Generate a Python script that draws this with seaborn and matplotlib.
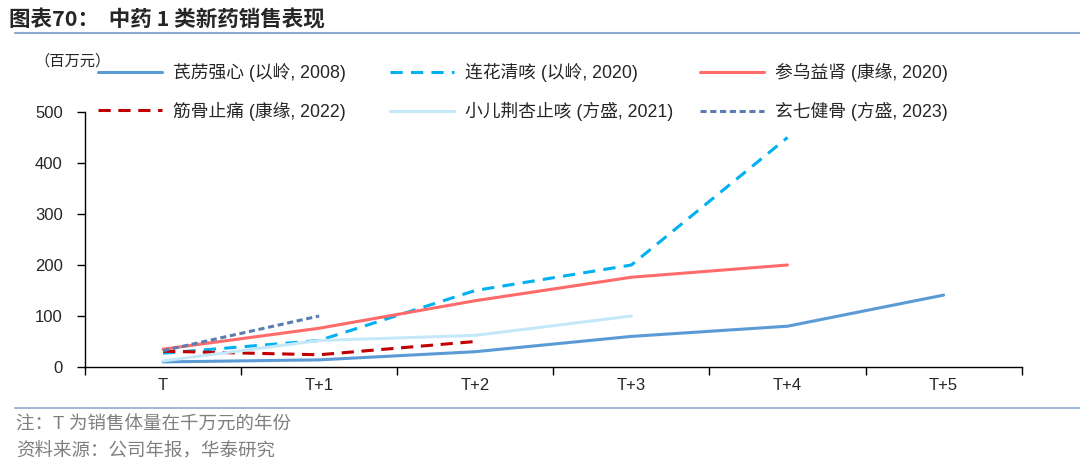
import pandas as pd
import matplotlib.pyplot as plt
import seaborn as sns

sns.set_style("white")
plt.rcParams['font.family'] = ['Liberation Sans', 'Noto Sans CJK SC']
plt.rcParams['axes.unicode_minus'] = False

periods = ["T", "T+1", "T+2", "T+3", "T+4", "T+5"]

qili = [10, 14, 30, 60, 80, 141]
lianhua = [27, 52, 150, 200, 450]
shenwu = [35, 76, 130, 176, 200]
jingu = [31, 24, 50]
xiaoer = [12, 52, 62, 100]
xuanqi = [32, 100]

names = ["芪苈强心 (以岭, 2008)", "连花清咳 (以岭, 2020)", "参乌益肾 (康缘, 2020)",
         "筋骨止痛 (康缘, 2022)", "小儿荆杏止咳 (方盛, 2021)", "玄七健骨 (方盛, 2023)"]
series = [qili, lianhua, shenwu, jingu, xiaoer, xuanqi]
colors = ["#5B9BD5", "#00B0F0", "#FF6B6B", "#C00000", "#C5E8F8", "#5B7DB1"]
dashes = [None, (4, 2.7), None, (4, 2.5), None, (2, 1.2)]

fig = plt.figure(figsize=(10.8, 4.68), dpi=100)
ax = fig.add_axes([0.0787, 0.2158, 0.8673, 0.5449])

lines = []
for name, vals, c, d in zip(names, series, colors, dashes):
    df = pd.DataFrame({"x": range(len(vals)), "y": vals})
    sns.lineplot(data=df, x="x", y="y", ax=ax, color=c, linewidth=2.2, label=name)
    ln = ax.get_lines()[-1]
    if d is not None:
        ln.set_dashes(d)
    lines.append(ln)

ax.set_xlim(-0.5, 5.5)
ax.set_ylim(0, 500)
ax.set_xlabel("")
ax.set_ylabel("")
ax.set_xticks(range(6))
ax.set_xticklabels(periods)
ax.set_xticks([i - 0.5 for i in range(7)], minor=True)
ax.tick_params(axis="x", which="major", bottom=True, length=0, pad=8, labelsize=12)
ax.tick_params(axis="x", which="minor", bottom=True, length=6, width=1, direction="out", color="black")
ax.set_yticks([0, 100, 200, 300, 400, 500])
ax.tick_params(axis="y", left=True, length=6, width=1, direction="out", color="black", labelsize=12, pad=10)
for s in ["top", "right"]:
    ax.spines[s].set_visible(False)
for s in ["left", "bottom"]:
    ax.spines[s].set_color("black")
    ax.spines[s].set_linewidth(1)

# three legend columns placed by hand, like the report layout
ax.get_legend().remove()
col_x = [98, 390, 700]
col_items = [[0, 3], [1, 4], [2, 5]]
for k, (x0, items) in enumerate(zip(col_x, col_items)):
    leg = ax.legend([lines[i] for i in items], [names[i] for i in items], frameon=False,
                    loc="upper left", bbox_to_anchor=(x0 / 1080, 1 - 63 / 468),
                    bbox_transform=fig.transFigure, fontsize=12.8, handlelength=3.6,
                    handletextpad=0.6, labelspacing=1.1, borderpad=0, borderaxespad=0)
    if k < 2:
        ax.add_artist(leg)

fig.text(0.008, 0.958, "图表70：  中药 1 类新药销售表现", fontsize=15.5, fontweight="bold",
         family=['Noto Sans CJK SC'], va="center")
fig.add_artist(plt.Line2D([0.014, 1.0], [0.929, 0.929], color="#8EAAD0", linewidth=1.5))
fig.text(0.032, 0.87, "（百万元）", fontsize=11, family=['Noto Sans CJK SC'], va="center")
fig.add_artist(plt.Line2D([0.014, 1.0], [0.128, 0.128], color="#8EAAD0", linewidth=1.2))
fig.text(0.015, 0.092, "注：T 为销售体量在千万元的年份", fontsize=13.3, color="#7F7F7F", va="center")
fig.text(0.015, 0.036, "资料来源：公司年报，华泰研究", fontsize=13.3, color="#7F7F7F", va="center")

fig.savefig("out.png", dpi=100)
